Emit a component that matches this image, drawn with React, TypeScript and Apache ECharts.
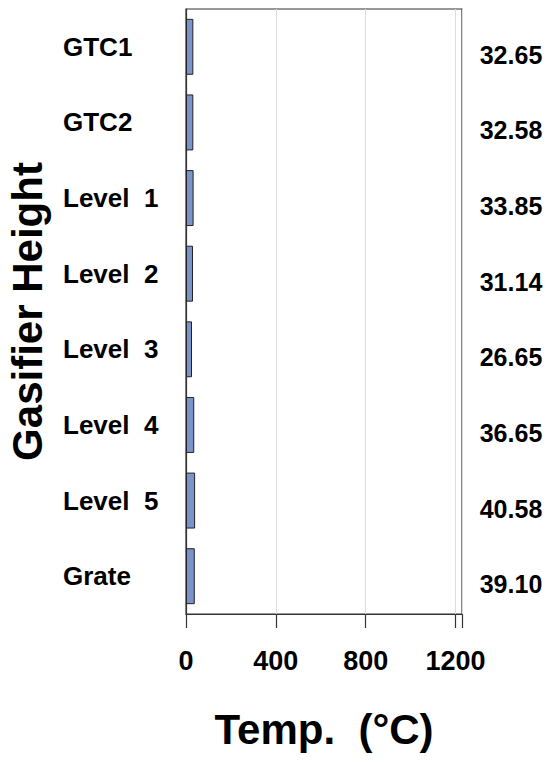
import React, { useEffect, useRef } from "react";
import * as echarts from "echarts";

const categories = ["GTC1", "GTC2", "Level  1", "Level  2", "Level  3", "Level  4", "Level  5", "Grate"];
const temps = [32.65, 32.58, 33.85, 31.14, 26.65, 36.65, 40.58, 39.1];
const valueLabels = ["32.65", "32.58", "33.85", "31.14", "26.65", "36.65", "40.58", "39.10"];
const xTicks = [0, 400, 800, 1200];

const FONT = "'Liberation Sans', Arial, Helvetica, sans-serif";

export default function App() {
  const ref = useRef<HTMLDivElement>(null);
  useEffect(() => {
    if (!ref.current) return;
    const chart = echarts.init(ref.current, null, { renderer: "svg" });
    chart.setOption({
      animation: false,
      backgroundColor: "#ffffff",
      grid: {
        left: 186,
        right: 90,
        top: 9,
        bottom: 148,
        show: true,
        borderColor: "#333",
        borderWidth: 1.2,
        backgroundColor: "transparent",
      },
      xAxis: {
        type: "value",
        min: 0,
        max: 1229,
        interval: 400,
        name: "Temp.  (°C)",
        nameLocation: "middle",
        nameGap: 94,
        nameTextStyle: { fontFamily: FONT, fontWeight: "bold", fontSize: 42, color: "#000" },
        axisLine: { show: true, lineStyle: { color: "#333", width: 1.2 } },
        axisTick: { show: true, length: 14, lineStyle: { color: "#333", width: 1.2 } },
        axisLabel: {
          margin: 33,
          fontFamily: FONT,
          fontWeight: "bold",
          fontSize: 27,
          color: "#000",
          showMaxLabel: true,
          formatter: (v: number) => (xTicks.includes(v) ? String(v) : ""),
        },
        splitLine: { show: true, lineStyle: { color: "#dddddd", width: 1 } },
      },
      yAxis: [
        {
          type: "category",
          data: categories,
          inverse: true,
          name: "Gasifier Height",
          nameLocation: "middle",
          nameGap: 138,
          nameRotate: 90,
          nameTextStyle: { fontFamily: FONT, fontWeight: "bold", fontSize: 42, color: "#000" },
          axisLine: { show: true, lineStyle: { color: "#333", width: 1.2 } },
          axisTick: { show: false },
          axisLabel: {
            align: "left",
            margin: 123,
            fontFamily: FONT,
            fontWeight: "bold",
            fontSize: 26,
            color: "#000",
          },
        },
        {
          type: "category",
          data: valueLabels,
          inverse: true,
          position: "right",
          axisLine: { show: false },
          axisTick: { show: false },
          axisLabel: {
            align: "center",
            margin: 49,
            formatter: (v: string) => "{v|" + v + "}",
            rich: {
              v: {
                padding: [16, 0, 0, 0],
                fontFamily: FONT,
                fontWeight: "bold",
                fontSize: 25,
                color: "#000",
              },
            },
          },
        },
      ],
      series: [
        {
          type: "bar",
          data: temps,
          yAxisIndex: 0,
          barCategoryGap: "26%",
          itemStyle: { color: "#7b93cb", borderColor: "#222", borderWidth: 1 },
        },
      ],
    });
    return () => chart.dispose();
  }, []);
  return <div ref={ref} style={{ width: 552, height: 762, position: "absolute", left: 0, top: 0 }} />;
}
